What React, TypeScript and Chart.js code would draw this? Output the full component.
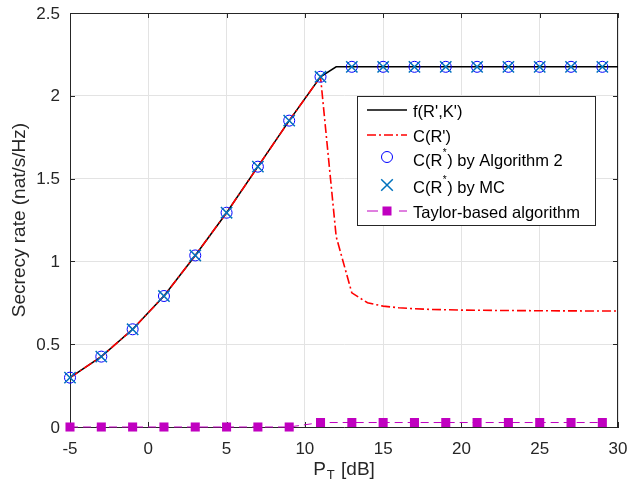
import React, { useEffect, useRef } from "react";
import { Chart, registerables } from "chart.js";

Chart.register(...registerables);

// ---------- data ----------
const markerX = [-5, -3, -1, 1, 3, 5, 7, 9, 11, 13, 15, 17, 19, 21, 23, 25, 27, 29];
const alg2Y = [0.298, 0.425, 0.59, 0.791, 1.036, 1.294, 1.572, 1.85, 2.115, 2.175, 2.175, 2.175, 2.175, 2.175, 2.175, 2.175, 2.175, 2.175];
const mcY = [0.298, 0.425, 0.59, 0.791, 1.036, 1.294, 1.572, 1.85, 2.115, 2.175, 2.175, 2.175, 2.175, 2.175, 2.175, 2.175, 2.175, 2.175];
const taylorY = [0, 0, 0, 0, 0, 0, 0, 0, 0.027, 0.027, 0.027, 0.027, 0.027, 0.027, 0.027, 0.027, 0.027, 0.027];

const fX = [-5, -3, -1, 1, 3, 5, 7, 9, 11, 12, 30];
const fY = [0.298, 0.425, 0.59, 0.791, 1.036, 1.294, 1.572, 1.85, 2.115, 2.175, 2.175];

const cX = [-5, -3, -1, 1, 3, 5, 7, 9, 11, 12, 13, 14, 15, 16, 17, 18, 19, 20, 22, 25, 30];
const cY = [0.298, 0.425, 0.59, 0.791, 1.036, 1.294, 1.572, 1.85, 2.115, 1.15, 0.81, 0.75, 0.73, 0.72, 0.714, 0.71, 0.708, 0.706, 0.704, 0.702, 0.7];

const xTickValues = [-5, 0, 5, 10, 15, 20, 25, 30];
const xTickLabels = ["-5", "0", "5", "10", "15", "20", "25", "30"];
const yTickValues = [0, 0.5, 1, 1.5, 2, 2.5];
const yTickLabels = ["0", "0.5", "1", "1.5", "2", "2.5"];

const legendLabels = ["f(R',K')", "C(R')", "C(R", "C(R", "Taylor-based algorithm"];
const legendTails = ["", "", ") by Algorithm 2", ") by MC", ""];
const xTitleMain = "P";
const xTitleSub = "T";
const xTitleTail = " [dB]";
const yTitle = "Secrecy rate (nat/s/Hz)";

// ---------- styles ----------
const FONT = "'Liberation Sans', Arial, Helvetica, sans-serif";
const AX = "#262626";
const GRID = "#e3e3e3";
const BLACK = "#000000";
const RED = "#ff0000";
const BLUE = "#0000ff";
const MCBLUE = "#0072bd";
const MAG = "#c000c0";

const toPts = (xs: number[], ys: number[]) => xs.map((x, i) => ({ x, y: ys[i] }));

const framePlugin = {
  id: "frame",
  beforeDatasetsDraw(chart: any) {
    const { ctx, chartArea: a, scales } = chart;
    ctx.save();
    ctx.strokeStyle = AX;
    ctx.lineWidth = 1;
    ctx.beginPath();
    ctx.moveTo(a.left, a.top + 0.5);
    ctx.lineTo(a.right, a.top + 0.5);
    ctx.moveTo(a.right - 0.5, a.top);
    ctx.lineTo(a.right - 0.5, a.bottom);
    const tl = 5;
    for (const v of xTickValues) {
      const px = Math.round(scales.x.getPixelForValue(v)) + 0.5;
      ctx.moveTo(px, a.bottom);
      ctx.lineTo(px, a.bottom - tl);
      ctx.moveTo(px, a.top);
      ctx.lineTo(px, a.top + tl);
    }
    for (const v of yTickValues) {
      const py = Math.round(scales.y.getPixelForValue(v)) + 0.5;
      ctx.moveTo(a.left, py);
      ctx.lineTo(a.left + tl, py);
      ctx.moveTo(a.right, py);
      ctx.lineTo(a.right - tl, py);
    }
    ctx.stroke();

    // tick labels
    ctx.fillStyle = AX;
    ctx.font = `17px ${FONT}`;
    ctx.textBaseline = "middle";
    ctx.textAlign = "center";
    xTickValues.forEach((v, i) => {
      ctx.fillText(xTickLabels[i], scales.x.getPixelForValue(v), a.bottom + 22);
    });
    ctx.textAlign = "right";
    yTickValues.forEach((v, i) => {
      ctx.fillText(yTickLabels[i], a.left - 10, scales.y.getPixelForValue(v) + 1);
    });
    ctx.restore();
  },
};

function drawSquare(ctx: CanvasRenderingContext2D, x: number, y: number, s: number) {
  ctx.fillStyle = MAG;
  ctx.fillRect(x - s / 2, y - s / 2, s, s);
}

const overlayPlugin = {
  id: "overlay",
  afterDraw(chart: any) {
    const { ctx, chartArea: a } = chart;
    ctx.save();
    // axis titles
    ctx.fillStyle = AX;
    ctx.font = `19px ${FONT}`;
    ctx.textBaseline = "middle";
    ctx.textAlign = "center";
    ctx.save();
    ctx.translate(20, (a.top + a.bottom) / 2);
    ctx.rotate(-Math.PI / 2);
    ctx.fillText(yTitle, 0, 0);
    ctx.restore();

    ctx.textAlign = "left";
    ctx.textBaseline = "alphabetic";
    const wP = ctx.measureText(xTitleMain).width;
    ctx.font = `13px ${FONT}`;
    const wT = ctx.measureText(xTitleSub).width;
    ctx.font = `19px ${FONT}`;
    const wR = ctx.measureText(xTitleTail).width;
    const total = wP + wT + wR + 2;
    const cx = (a.left + a.right) / 2;
    const x0 = cx - total / 2;
    const base = 475;
    ctx.fillText(xTitleMain, x0, base);
    ctx.font = `13px ${FONT}`;
    ctx.fillText(xTitleSub, x0 + wP + 1, base + 4);
    ctx.font = `19px ${FONT}`;
    ctx.fillText(xTitleTail, x0 + wP + wT + 2, base);

    // legend
    const lx = 357.5, ly = 96.5, lw = 238, lh = 129;
    ctx.fillStyle = "#ffffff";
    ctx.fillRect(lx, ly, lw, lh);
    ctx.strokeStyle = AX;
    ctx.lineWidth = 1;
    ctx.strokeRect(lx, ly, lw, lh);

    const rowY = [110, 135, 159, 186, 211];
    const sx0 = 367, sx1 = 407, sc = 387, tx = 413;
    ctx.setLineDash([]);
    ctx.strokeStyle = BLACK;
    ctx.lineWidth = 1.5;
    ctx.beginPath();
    ctx.moveTo(sx0, rowY[0]);
    ctx.lineTo(sx1, rowY[0]);
    ctx.stroke();
    ctx.strokeStyle = RED;
    ctx.setLineDash([9, 3, 2, 3]);
    ctx.beginPath();
    ctx.moveTo(sx0, rowY[1]);
    ctx.lineTo(sx1, rowY[1]);
    ctx.stroke();
    ctx.setLineDash([]);
    ctx.strokeStyle = BLUE;
    ctx.lineWidth = 1;
    ctx.beginPath();
    ctx.arc(sc, rowY[2] - 2, 5.5, 0, Math.PI * 2);
    ctx.stroke();
    ctx.strokeStyle = MCBLUE;
    ctx.lineWidth = 1.5;
    ctx.beginPath();
    const d = 5.8;
    ctx.moveTo(sc - d, rowY[3] - 1 - d);
    ctx.lineTo(sc + d, rowY[3] - 1 + d);
    ctx.moveTo(sc + d, rowY[3] - 1 - d);
    ctx.lineTo(sc - d, rowY[3] - 1 + d);
    ctx.stroke();
    ctx.strokeStyle = MAG;
    ctx.lineWidth = 1;
    ctx.beginPath();
    ctx.moveTo(sx0, rowY[4]);
    ctx.lineTo(378, rowY[4]);
    ctx.moveTo(399, rowY[4]);
    ctx.lineTo(sx1, rowY[4]);
    ctx.stroke();
    drawSquare(ctx, sc, rowY[4], 9);

    ctx.fillStyle = BLACK;
    ctx.textAlign = "left";
    ctx.textBaseline = "middle";
    for (let i = 0; i < legendLabels.length; i++) {
      ctx.font = `16.5px ${FONT}`;
      const ty = rowY[i] + 2;
      ctx.fillText(legendLabels[i], tx, ty);
      if (legendTails[i]) {
        const w1 = ctx.measureText(legendLabels[i]).width;
        ctx.font = `10px ${FONT}`;
        ctx.fillText("*", tx + w1 + 0.5, ty - 8);
        const w2 = ctx.measureText("*").width;
        ctx.font = `16.5px ${FONT}`;
        ctx.fillText(legendTails[i], tx + w1 + w2 + 1, ty);
      }
    }
    ctx.restore();
  },
};

export default function App() {
  const ref = useRef<HTMLCanvasElement | null>(null);

  useEffect(() => {
    if (!ref.current) return;
    const chart = new Chart(ref.current, {
      type: "scatter",
      data: {
        datasets: [
          {
            label: "Taylor-based algorithm",
            data: toPts(markerX, taylorY),
            showLine: true,
            borderColor: MAG,
            borderWidth: 1,
            borderDash: [8, 5],
            pointStyle: "rect",
            pointRadius: 6.4,
            pointBackgroundColor: MAG,
            pointBorderColor: MAG,
            pointBorderWidth: 0,
            clip: false,
            order: 1,
          } as any,
          {
            label: "C(R*) by MC",
            data: toPts(markerX, mcY),
            showLine: false,
            pointStyle: "crossRot",
            pointRadius: 8,
            pointBorderColor: MCBLUE,
            pointBorderWidth: 1.5,
            clip: false,
            order: 2,
          } as any,
          {
            label: "C(R*) by Algorithm 2",
            data: toPts(markerX, alg2Y),
            showLine: false,
            pointStyle: "circle",
            pointRadius: 5.5,
            pointBorderColor: BLUE,
            pointBackgroundColor: "rgba(0,0,0,0)",
            pointBorderWidth: 1,
            clip: false,
            order: 3,
          } as any,
          {
            label: "C(R')",
            data: toPts(cX, cY),
            showLine: true,
            borderColor: RED,
            borderWidth: 1.6,
            borderDash: [9, 3, 2, 3],
            pointRadius: 0,
            clip: false,
            order: 4,
          } as any,
          {
            label: "f(R',K')",
            data: toPts(fX, fY),
            showLine: true,
            borderColor: BLACK,
            borderWidth: 1.5,
            pointRadius: 0,
            clip: false,
            order: 5,
          } as any,
        ],
      },
      options: {
        animation: false,
        responsive: false,
        devicePixelRatio: 1,
        layout: { padding: { top: 13, right: 11, left: 0, bottom: 0 } },
        plugins: {
          legend: { display: false },
          tooltip: { enabled: false },
        },
        scales: {
          x: {
            type: "linear",
            min: -5,
            max: 30,
            afterBuildTicks: (s: any) => {
              s.ticks = xTickValues.map((v) => ({ value: v }));
            },
            ticks: { display: false },
            grid: { color: GRID, drawTicks: false, lineWidth: 1 },
            border: { color: AX, width: 1 },
            afterFit: (s: any) => {
              s.height = 60;
            },
          },
          y: {
            type: "linear",
            min: 0,
            max: 2.5,
            afterBuildTicks: (s: any) => {
              s.ticks = yTickValues.map((v) => ({ value: v }));
            },
            ticks: { display: false },
            grid: { color: GRID, drawTicks: false, lineWidth: 1 },
            border: { color: AX, width: 1 },
            afterFit: (s: any) => {
              s.width = 70;
            },
          },
        },
      } as any,
      plugins: [framePlugin, overlayPlugin],
    });
    return () => chart.destroy();
  }, []);

  return (
    <div style={{ position: "absolute", left: 0, top: 0, width: 629, height: 487, background: "#fff" }}>
      <canvas ref={ref} width={629} height={487} />
    </div>
  );
}
